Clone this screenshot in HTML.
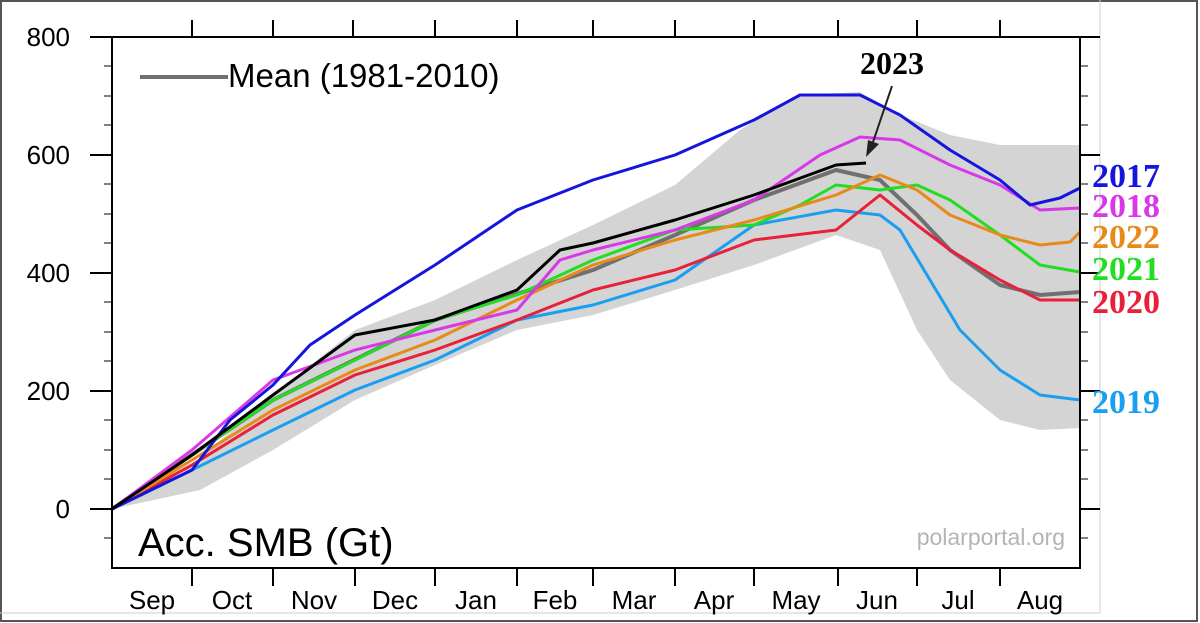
<!DOCTYPE html>
<html><head><style>
html,body{margin:0;padding:0;background:#fff;}
svg{display:block;}
text{font-family:"Liberation Sans",sans-serif;}
.s{font-family:"Liberation Serif",serif;font-weight:bold;}
</style></head><body>
<svg width="1200" height="623" viewBox="0 0 1200 623" xmlns="http://www.w3.org/2000/svg">
<rect x="0" y="0" width="1200" height="623" fill="#fff"/>
<rect x="1" y="1" width="1196" height="620" fill="none" stroke="#555" stroke-width="2"/>
<line x1="1100" y1="0" x2="1100" y2="613" stroke="#ccc" stroke-width="1"/>
<line x1="0" y1="613" x2="1100" y2="613" stroke="#ccc" stroke-width="1"/>
<!-- band -->
<polygon fill="#d4d4d4" points="112,509 180,475 273,395 355,330 435,300 517,260 593,225 675,185 740,130 800,95 860,92 900,115 950,135 1000,145 1080,145 1080,428 1040,430 1000,420 950,380 917,330 880,250 836,235 754,265 675,290 593,315 517,330 435,365 355,400 273,450 200,490"/>
<g fill="none" stroke-width="3" stroke-linejoin="round">
<polyline stroke="#707070" stroke-width="4" points="112,509 273,400 435,320 593,270 675,235 754,200 836,170 880,180 917,215 950,250 1000,285 1040,295 1080,292"/>
<polyline stroke="#1a9ff0" points="112,509 192,470 273,430 355,390 435,360 517,320 593,305 675,280 754,225 836,210 880,215 900,230 930,280 960,330 1000,370 1040,395 1080,400"/>
<polyline stroke="#e8203a" points="112,509 192,465 273,415 355,375 435,350 517,320 593,290 675,270 754,240 836,230 880,195 917,225 950,250 1000,280 1040,300 1080,300"/>
<polyline stroke="#22dd22" points="112,509 192,455 273,400 355,360 435,320 517,295 593,260 675,230 754,225 800,205 836,185 880,190 917,185 950,200 1000,235 1040,265 1080,272"/>
<polyline stroke="#e88a1a" points="112,509 192,460 273,410 355,370 435,340 517,300 593,265 675,240 754,220 836,195 880,175 917,190 950,215 1000,235 1040,245 1070,242 1080,232"/>
<polyline stroke="#d838e8" points="112,509 192,450 273,380 355,350 435,330 517,310 560,260 593,250 675,230 754,200 820,155 860,137 900,140 950,165 1000,185 1040,210 1080,208"/>
<polyline stroke="#1515dd" points="112,509 192,470 230,420 273,385 310,345 355,315 435,265 517,210 593,180 675,155 754,120 800,95 860,95 900,115 950,150 1000,180 1030,205 1060,198 1080,188"/>
<polyline stroke="#000" points="112,509 192,455 273,395 355,335 435,320 517,290 560,250 593,243 675,220 754,195 836,165 866,163"/>
</g>
<!-- arrow -->
<line x1="892" y1="86" x2="872" y2="145" stroke="#222" stroke-width="2"/>
<polygon points="866,157 868,140 879,144" fill="#222"/>
<!-- axes -->
<rect x="112" y="37" width="968" height="531" fill="none" stroke="#000" stroke-width="2"/>
<g stroke="#000" stroke-width="2">
<line x1="90" y1="37" x2="112" y2="37"/><line x1="90" y1="155" x2="112" y2="155"/><line x1="90" y1="273" x2="112" y2="273"/><line x1="90" y1="391" x2="112" y2="391"/><line x1="90" y1="509" x2="112" y2="509"/>
<line x1="1080" y1="37" x2="1100" y2="37"/><line x1="1080" y1="155" x2="1100" y2="155"/><line x1="1080" y1="273" x2="1100" y2="273"/><line x1="1080" y1="391" x2="1100" y2="391"/><line x1="1080" y1="509" x2="1100" y2="509"/>
</g>
<g stroke="#000" stroke-width="1">
<line x1="104" y1="66" x2="112" y2="66"/><line x1="104" y1="96" x2="112" y2="96"/><line x1="104" y1="125" x2="112" y2="125"/><line x1="104" y1="184" x2="112" y2="184"/><line x1="104" y1="214" x2="112" y2="214"/><line x1="104" y1="243" x2="112" y2="243"/><line x1="104" y1="302" x2="112" y2="302"/><line x1="104" y1="332" x2="112" y2="332"/><line x1="104" y1="361" x2="112" y2="361"/><line x1="104" y1="420" x2="112" y2="420"/><line x1="104" y1="450" x2="112" y2="450"/><line x1="104" y1="479" x2="112" y2="479"/><line x1="104" y1="538" x2="112" y2="538"/>
<line x1="1080" y1="66" x2="1088" y2="66"/><line x1="1080" y1="96" x2="1088" y2="96"/><line x1="1080" y1="125" x2="1088" y2="125"/><line x1="1080" y1="184" x2="1088" y2="184"/><line x1="1080" y1="214" x2="1088" y2="214"/><line x1="1080" y1="243" x2="1088" y2="243"/><line x1="1080" y1="302" x2="1088" y2="302"/><line x1="1080" y1="332" x2="1088" y2="332"/><line x1="1080" y1="361" x2="1088" y2="361"/><line x1="1080" y1="420" x2="1088" y2="420"/><line x1="1080" y1="450" x2="1088" y2="450"/><line x1="1080" y1="479" x2="1088" y2="479"/><line x1="1080" y1="538" x2="1088" y2="538"/>
</g>
<g stroke="#000" stroke-width="2">
<line x1="192" y1="568" x2="192" y2="586"/><line x1="273" y1="568" x2="273" y2="586"/><line x1="355" y1="568" x2="355" y2="586"/><line x1="435" y1="568" x2="435" y2="586"/><line x1="517" y1="568" x2="517" y2="586"/><line x1="593" y1="568" x2="593" y2="586"/><line x1="675" y1="568" x2="675" y2="586"/><line x1="754" y1="568" x2="754" y2="586"/><line x1="838" y1="568" x2="838" y2="586"/><line x1="917" y1="568" x2="917" y2="586"/><line x1="1000" y1="568" x2="1000" y2="586"/>
<line x1="192" y1="37" x2="192" y2="20"/><line x1="273" y1="37" x2="273" y2="20"/><line x1="353" y1="37" x2="353" y2="20"/><line x1="435" y1="37" x2="435" y2="20"/><line x1="517" y1="37" x2="517" y2="20"/><line x1="593" y1="37" x2="593" y2="20"/><line x1="675" y1="37" x2="675" y2="20"/><line x1="754" y1="37" x2="754" y2="20"/><line x1="838" y1="37" x2="838" y2="20"/><line x1="917" y1="37" x2="917" y2="20"/><line x1="1000" y1="37" x2="1000" y2="20"/>
</g>
<g font-size="26" text-anchor="end" fill="#000">
<text x="70" y="46">800</text><text x="70" y="164">600</text><text x="70" y="282">400</text><text x="70" y="400">200</text><text x="70" y="518">0</text>
</g>
<g font-size="26" text-anchor="middle" fill="#000">
<text x="152" y="609">Sep</text><text x="232" y="609">Oct</text><text x="314" y="609">Nov</text><text x="395" y="609">Dec</text><text x="476" y="609">Jan</text><text x="555" y="609">Feb</text><text x="634" y="609">Mar</text><text x="714" y="609">Apr</text><text x="796" y="609">May</text><text x="877" y="609">Jun</text><text x="958" y="609">Jul</text><text x="1040" y="609">Aug</text>
</g>
<line x1="140" y1="77" x2="228" y2="77" stroke="#707070" stroke-width="4"/>
<text x="228" y="87" font-size="33">Mean (1981-2010)</text>
<text x="138" y="556" font-size="40">Acc. SMB (Gt)</text>
<text x="1065" y="545" font-size="23" fill="#b4b4b4" text-anchor="end">polarportal.org</text>
<text class="s" x="860" y="74" font-size="32" fill="#000">2023</text>
<g class="s" font-size="34">
<text class="s" x="1092" y="187" fill="#1515dd">2017</text>
<text class="s" x="1092" y="217" fill="#d838e8">2018</text>
<text class="s" x="1092" y="248" fill="#e88a1a">2022</text>
<text class="s" x="1092" y="280" fill="#22dd22">2021</text>
<text class="s" x="1092" y="313" fill="#e8203a">2020</text>
<text class="s" x="1092" y="413" fill="#1a9ff0">2019</text>
</g>
</svg>
</body></html>
